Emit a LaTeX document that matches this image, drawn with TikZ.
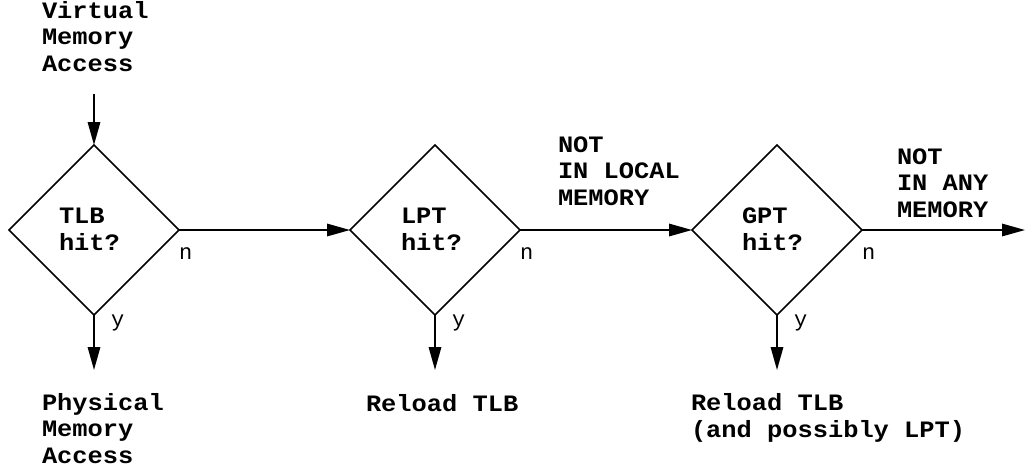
\documentclass[tikz,border=0pt]{standalone}
\usepackage{fontspec}
\newfontfamily\labelfont{Liberation Mono}[FakeStretch=1.08]
\newfontfamily\tagfont{Liberation Mono}
\usetikzlibrary{shapes.geometric,arrows.meta}
\begin{document}
\begin{tikzpicture}[x=1pt,y=-1pt,
  every node/.style={inner sep=0pt, outer sep=0pt},
  decision/.style={draw, diamond, line width=1.6pt, minimum width=170pt, minimum height=170pt},
  lbl/.style={font=\labelfont\bfseries\fontsize{23.5}{26.3}\selectfont, align=left, anchor=base west},
  tag/.style={font=\tagfont\fontsize{22}{24}\selectfont, anchor=base west},
  flow/.style={line width=1.6pt, -{Triangle[length=23pt,width=12.5pt]}}
]
\useasboundingbox (0,0) rectangle (1026,467);

% decision diamonds
\node[decision] (tlb) at (94,230) {};
\node[decision] (lpt) at (435,230) {};
\node[decision] (gpt) at (777,230) {};

% text inside the diamonds (anchored on the last line)
\node[lbl] (tlbtxt) at (59,250) {TLB\\hit?};
\node[lbl] (lpttxt) at (401,250) {LPT\\hit?};
\node[lbl] (gpttxt) at (742,250) {GPT\\hit?};

% outcome texts
\node[lbl] (vma) at (42,71) {Virtual\\Memory\\Access};
\node[lbl] (pma) at (42,463) {Physical\\Memory\\Access};
\node[lbl] (rl1) at (366,411) {Reload TLB};
\node[lbl] (rl2) at (691,437) {Reload TLB\\(and possibly LPT)};
\node[lbl] (nlocal) at (558,205) {NOT\\IN LOCAL\\MEMORY};
\node[lbl] (nany) at (897,217) {NOT\\IN ANY\\MEMORY};

% free ends of the connectors
\coordinate (start) at (94,94);
\coordinate (hitA) at (94,370);
\coordinate (hitB) at (435,370);
\coordinate (hitC) at (777,370);
\coordinate (miss) at (1025,230);

% connectors
\draw[flow] (start) -- (tlb.north);
\draw[flow] (tlb.south) -- (hitA);
\draw[flow] (lpt.south) -- (hitB);
\draw[flow] (gpt.south) -- (hitC);
\draw[flow] (tlb.east) -- (lpt.west);
\draw[flow] (lpt.east) -- (gpt.west);
\draw[flow] (gpt.east) -- (miss);

% branch tags
\node[tag] (tlbn) at ([shift={(0,29)}]tlb.east) {n};
\node[tag] (lptn) at ([shift={(0,29)}]lpt.east) {n};
\node[tag] (gptn) at ([shift={(0,29)}]gpt.east) {n};
\node[tag] (tlby) at ([shift={(17,11)}]tlb.south) {y};
\node[tag] (lpty) at ([shift={(17,11)}]lpt.south) {y};
\node[tag] (gpty) at ([shift={(17,11)}]gpt.south) {y};
\end{tikzpicture}
\end{document}
